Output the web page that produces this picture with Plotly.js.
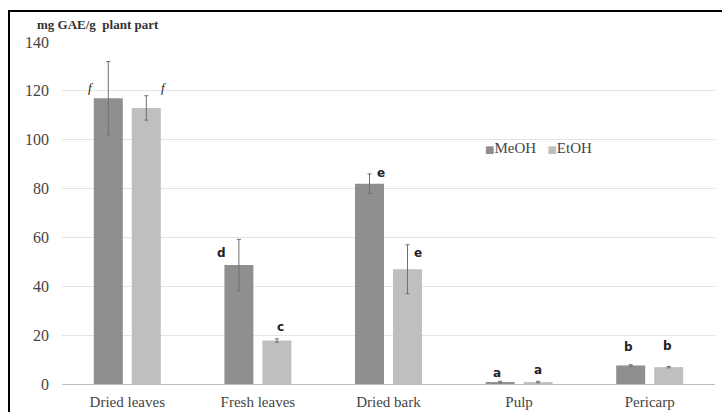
<!DOCTYPE html>
<html>
<head>
<meta charset="utf-8">
<script src="https://cdn.plot.ly/plotly-3.0.1.min.js"></script>
<style>
  html, body { margin: 0; padding: 0; background: #fff; }
  #wrap { position: relative; width: 722px; height: 412px; overflow: hidden; }
  #chart { width: 722px; height: 412px; }
  #frame { position: absolute; left: 8px; top: 10px; width: 760px; height: 460px;
           border-left: 2px solid #000; border-top: 2px solid #000; pointer-events: none; }
</style>
</head>
<body>
<div id="wrap">
  <div id="chart"></div>
  <div id="frame"></div>
</div>
<script>
const categories = ["Dried leaves", "Fresh leaves", "Dried bark", "Pulp", "Pericarp"];
const seriesNames = ["MeOH", "EtOH"];
const meoh = [117, 48.7, 82, 0.8, 7.6];
const meohErr = [15, 10.5, 4, 0.3, 0.3];
const etoh = [113, 17.8, 47, 0.8, 6.9];
const etohErr = [5, 0.7, 10, 0.3, 0.3];
const meohLetters = ["f", "d", "e", "a", "b"];
const etohLetters = ["f", "c", "e", "a", "b"];
const meohLetterY = [121.5, 53.7, 86.5, 4.6, 15.3];
const etohLetterY = [121.5, 23.5, 53.7, 5.8, 15.7];
const yTicks = [0, 20, 40, 60, 80, 100, 120, 140];

const serif = "Liberation Serif";
const sans = "DejaVu Sans";
const colors = ["#8f8f8f", "#bfbfbf"];

const errStyle = { type: "data", visible: true, color: "#707070", thickness: 1, width: 2 };
const traces = [
  {
    type: "bar", name: seriesNames[0], x: categories, y: meoh,
    marker: { color: colors[0] },
    error_y: Object.assign({ array: meohErr }, errStyle)
  },
  {
    type: "bar", name: seriesNames[1], x: categories, y: etoh,
    marker: { color: colors[1] },
    error_y: Object.assign({ array: etohErr }, errStyle)
  }
];

const off = 0.1455;
const meohShift = [-17, -17, 11, -3, -2];
const etohShift = [18, 4, 10, 0, -1];
const annotations = [];
function letterFont(l) {
  return l === "f"
    ? { family: serif, size: 13, color: "#222", style: "italic" }
    : { family: sans, size: 12, color: "#222", weight: "bold" };
}
categories.forEach((c, i) => {
  annotations.push({
    x: i - off, y: meohLetterY[i], xref: "x", yref: "y", text: meohLetters[i],
    showarrow: false, xshift: meohShift[i], font: letterFont(meohLetters[i])
  });
  annotations.push({
    x: i + off, y: etohLetterY[i], xref: "x", yref: "y", text: etohLetters[i],
    showarrow: false, xshift: etohShift[i], font: letterFont(etohLetters[i])
  });
});

const L = 62, R = 7, T = 42, B = 28;
const pw = 722 - L - R, ph = 412 - T - B;
const px = v => (v - L) / pw;
const py = v => 1 - (v - T) / ph;

annotations.push({
  x: px(35), y: py(25), xref: "paper", yref: "paper",
  text: "<b>mg GAE/g&nbsp;&nbsp;plant part</b>",
  showarrow: false, xanchor: "left", yanchor: "middle",
  font: { family: serif, size: 13, color: "#333" }
});

// legend (compact, drawn as text with coloured square glyphs)
const legendText = seriesNames.map((n, i) =>
  `<span style="color:${colors[i]};font-family:DejaVu Sans;font-size:10px">■</span>${n}`
).join("&nbsp;&nbsp;&nbsp;");
annotations.push({
  x: px(483), y: py(148), xref: "paper", yref: "paper",
  text: legendText, showarrow: false, xanchor: "left", yanchor: "middle",
  font: { family: serif, size: 15, color: "#444" }
});

const layout = {
  width: 722, height: 412,
  margin: { l: L, r: R, t: T, b: B },
  paper_bgcolor: "#fff", plot_bgcolor: "#fff",
  barmode: "group", bargap: 0.418, bargroupgap: 0.237,
  showlegend: false,
  xaxis: {
    type: "category", showgrid: false, zeroline: false,
    showline: true, linecolor: "#bdbdbd", linewidth: 1,
    ticks: "", tickfont: { family: serif, size: 15, color: "#444" },
    ticklabelstandoff: 4, fixedrange: true
  },
  yaxis: {
    range: [0, 140], tickvals: yTicks, ticktext: yTicks.map(String),
    showgrid: true, gridcolor: "#e4e4e4", gridwidth: 1, zeroline: false,
    showline: false, ticks: "", ticklabelstandoff: 12,
    tickfont: { family: serif, size: 16, color: "#444" }, fixedrange: true
  },
  annotations: annotations
};

Plotly.newPlot("chart", traces, layout, { displayModeBar: false, staticPlot: true });
</script>
</body>
</html>
